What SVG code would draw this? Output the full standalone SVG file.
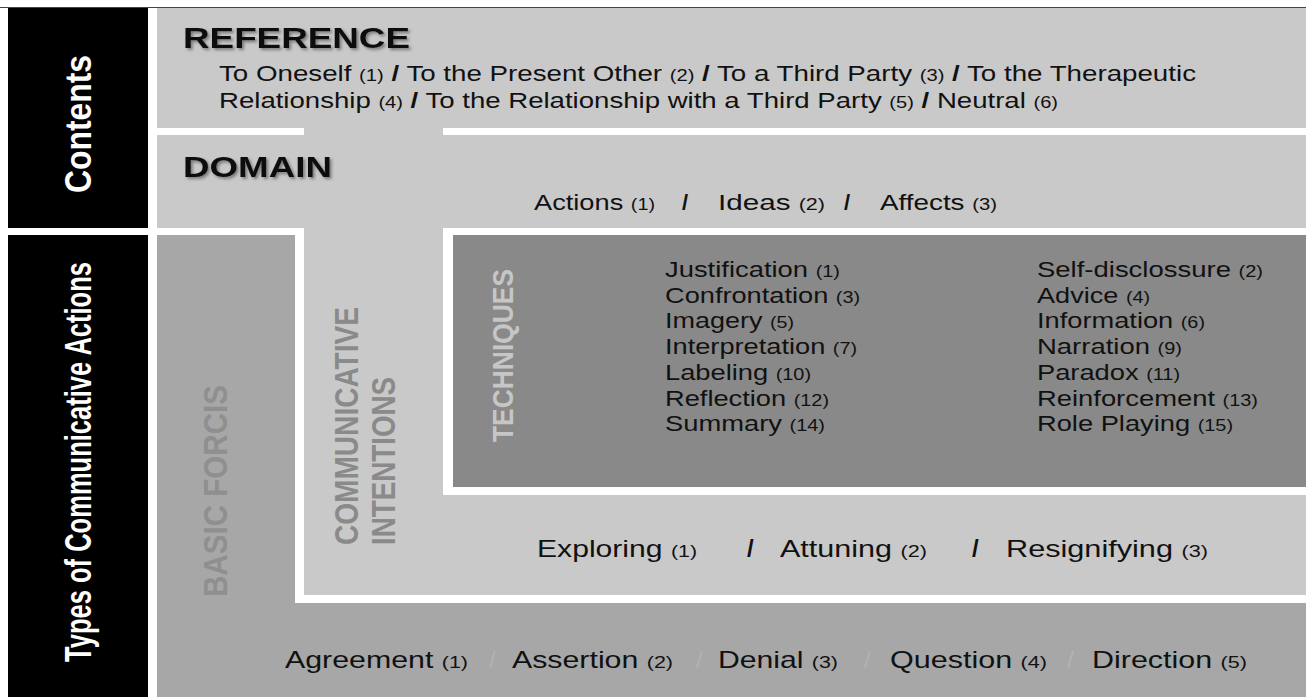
<svg xmlns="http://www.w3.org/2000/svg" width="1306" height="697" viewBox="0 0 1306 697">
<defs>
<filter id="shadow" x="-10%" y="-40%" width="130%" height="200%"><feDropShadow dx="2" dy="2" stdDeviation="1.5" flood-color="#444" flood-opacity="0.6"/></filter>
</defs>
<style>
text { font-family: "Liberation Sans", Arial, sans-serif; }
.t { fill: #111; font-size: 22px; }
.t24 { fill: #111; font-size: 24px; }
.n { font-size: 16px; }
.n24 { font-size: 17px; }
.h { font-weight: bold; font-size: 29px; fill: #111; filter: url(#shadow); }
.sl { font-weight: bold; }
.faint { fill: #b3b3b3; font-size: 24px; }
.side { fill: #fff; font-weight: bold; font-size: 30px; }
.vl { font-weight: bold; }
.wl { fill: #fff; }
</style>
<rect width="1306" height="697" fill="#fff"/>
<line x1="0" y1="7.5" x2="1306" y2="7.5" stroke="#444" stroke-width="1"/>

<g id="panels">
  <rect x="157" y="8" width="1149" height="689" fill="#c9c9c9"/>
  <path d="M157,235 H295 V603 H1306 V697 H157 Z" fill="#a7a7a7"/>
  <rect x="453" y="235" width="853" height="252" fill="#898989"/>
  <rect class="wl" x="157" y="128" width="147" height="7"/>
  <rect class="wl" x="443" y="128" width="863" height="7"/>
  <rect class="wl" x="157" y="228" width="147" height="7"/>
  <rect class="wl" x="443" y="228" width="863" height="7"/>
  <rect class="wl" x="295" y="228" width="9" height="375"/>
  <rect class="wl" x="443" y="228" width="10" height="267"/>
  <rect class="wl" x="443" y="487" width="863" height="8"/>
  <rect class="wl" x="295" y="595" width="1011" height="8"/>
</g>

<g id="side-contents">
  <rect x="8" y="8" width="140" height="220" fill="#000"/>
  <text class="side" transform="translate(91,124) rotate(-90) scale(1,1.25)" text-anchor="middle" textLength="138" lengthAdjust="spacingAndGlyphs">Contents</text>
</g>
<g id="side-types">
  <rect x="8" y="235" width="140" height="462" fill="#000"/>
  <text class="side" transform="translate(91,462) rotate(-90) scale(1,1.25)" text-anchor="middle" textLength="400" lengthAdjust="spacingAndGlyphs">Types of Communicative Actions</text>
</g>

<g id="reference">
  <text class="h" x="183" y="48" textLength="227" lengthAdjust="spacingAndGlyphs">REFERENCE</text>
  <text class="t" x="219" y="81" textLength="977" lengthAdjust="spacingAndGlyphs">To Oneself <tspan class="n">(1)</tspan> <tspan class="sl">/</tspan> To the Present Other <tspan class="n">(2)</tspan> <tspan class="sl">/</tspan> To a Third Party <tspan class="n">(3)</tspan> <tspan class="sl">/</tspan> To the Therapeutic</text>
  <text class="t" x="219" y="108" textLength="839" lengthAdjust="spacingAndGlyphs">Relationship <tspan class="n">(4)</tspan> <tspan class="sl">/</tspan> To the Relationship with a Third Party <tspan class="n">(5)</tspan> <tspan class="sl">/</tspan> Neutral <tspan class="n">(6)</tspan></text>
</g>

<g id="domain">
  <text class="h" x="183" y="177" textLength="149" lengthAdjust="spacingAndGlyphs">DOMAIN</text>
  <text class="t" x="534" y="210" textLength="121" lengthAdjust="spacingAndGlyphs">Actions <tspan class="n">(1)</tspan></text>
  <text class="t sl" x="682" y="210">/</text>
  <text class="t" x="718" y="210" textLength="107" lengthAdjust="spacingAndGlyphs">Ideas <tspan class="n">(2)</tspan></text>
  <text class="t sl" x="844" y="210">/</text>
  <text class="t" x="880" y="210" textLength="117" lengthAdjust="spacingAndGlyphs">Affects <tspan class="n">(3)</tspan></text>
</g>

<g id="techniques">
  <text class="vl" fill="#c6c6c6" font-size="24" transform="translate(513,442) rotate(-90) scale(1,1.25)" textLength="173" lengthAdjust="spacingAndGlyphs">TECHNIQUES</text>
  <text class="t" x="665" y="277" textLength="175" lengthAdjust="spacingAndGlyphs">Justification <tspan class="n">(1)</tspan></text>
  <text class="t" x="665" y="302.5" textLength="195" lengthAdjust="spacingAndGlyphs">Confrontation <tspan class="n">(3)</tspan></text>
  <text class="t" x="665" y="328" textLength="129" lengthAdjust="spacingAndGlyphs">Imagery <tspan class="n">(5)</tspan></text>
  <text class="t" x="665" y="354" textLength="192" lengthAdjust="spacingAndGlyphs">Interpretation <tspan class="n">(7)</tspan></text>
  <text class="t" x="665" y="380" textLength="146" lengthAdjust="spacingAndGlyphs">Labeling <tspan class="n">(10)</tspan></text>
  <text class="t" x="665" y="405.5" textLength="164" lengthAdjust="spacingAndGlyphs">Reflection <tspan class="n">(12)</tspan></text>
  <text class="t" x="665" y="431" textLength="160" lengthAdjust="spacingAndGlyphs">Summary <tspan class="n">(14)</tspan></text>
  <text class="t" x="1037" y="277" textLength="226" lengthAdjust="spacingAndGlyphs">Self-disclossure <tspan class="n">(2)</tspan></text>
  <text class="t" x="1037" y="302.5" textLength="113" lengthAdjust="spacingAndGlyphs">Advice <tspan class="n">(4)</tspan></text>
  <text class="t" x="1037" y="328" textLength="168" lengthAdjust="spacingAndGlyphs">Information <tspan class="n">(6)</tspan></text>
  <text class="t" x="1037" y="354" textLength="145" lengthAdjust="spacingAndGlyphs">Narration <tspan class="n">(9)</tspan></text>
  <text class="t" x="1037" y="380" textLength="143" lengthAdjust="spacingAndGlyphs">Paradox <tspan class="n">(11)</tspan></text>
  <text class="t" x="1037" y="405.5" textLength="221" lengthAdjust="spacingAndGlyphs">Reinforcement <tspan class="n">(13)</tspan></text>
  <text class="t" x="1037" y="431" textLength="196" lengthAdjust="spacingAndGlyphs">Role Playing <tspan class="n">(15)</tspan></text>
</g>

<g id="communicative-intentions">
  <text class="vl" fill="#8a8a8a" font-size="26" transform="translate(358,545) rotate(-90) scale(1,1.25)" textLength="238" lengthAdjust="spacingAndGlyphs">COMMUNICATIVE</text>
  <text class="vl" fill="#8a8a8a" font-size="26" transform="translate(395,545) rotate(-90) scale(1,1.25)" textLength="168" lengthAdjust="spacingAndGlyphs">INTENTIONS</text>
  <text class="t24" x="537" y="557" textLength="160" lengthAdjust="spacingAndGlyphs">Exploring <tspan class="n24">(1)</tspan></text>
  <text class="t24 sl" x="747" y="557">/</text>
  <text class="t24" x="780" y="557" textLength="147" lengthAdjust="spacingAndGlyphs">Attuning <tspan class="n24">(2)</tspan></text>
  <text class="t24 sl" x="972" y="557">/</text>
  <text class="t24" x="1006" y="557" textLength="202" lengthAdjust="spacingAndGlyphs">Resignifying <tspan class="n24">(3)</tspan></text>
</g>

<g id="basic-forcis">
  <text class="vl" fill="#8f8f8f" font-size="27" transform="translate(227,597) rotate(-90) scale(1,1.25)" textLength="212" lengthAdjust="spacingAndGlyphs">BASIC FORCIS</text>
  <text class="t24" x="285" y="668" textLength="183" lengthAdjust="spacingAndGlyphs">Agreement <tspan class="n24">(1)</tspan></text>
  <text class="faint" x="489" y="668">/</text>
  <text class="t24" x="512" y="668" textLength="161" lengthAdjust="spacingAndGlyphs">Assertion <tspan class="n24">(2)</tspan></text>
  <text class="faint" x="696" y="668">/</text>
  <text class="t24" x="718" y="668" textLength="120" lengthAdjust="spacingAndGlyphs">Denial <tspan class="n24">(3)</tspan></text>
  <text class="faint" x="864" y="668">/</text>
  <text class="t24" x="890" y="668" textLength="157" lengthAdjust="spacingAndGlyphs">Question <tspan class="n24">(4)</tspan></text>
  <text class="faint" x="1067" y="668">/</text>
  <text class="t24" x="1092" y="668" textLength="155" lengthAdjust="spacingAndGlyphs">Direction <tspan class="n24">(5)</tspan></text>
</g>
</svg>
